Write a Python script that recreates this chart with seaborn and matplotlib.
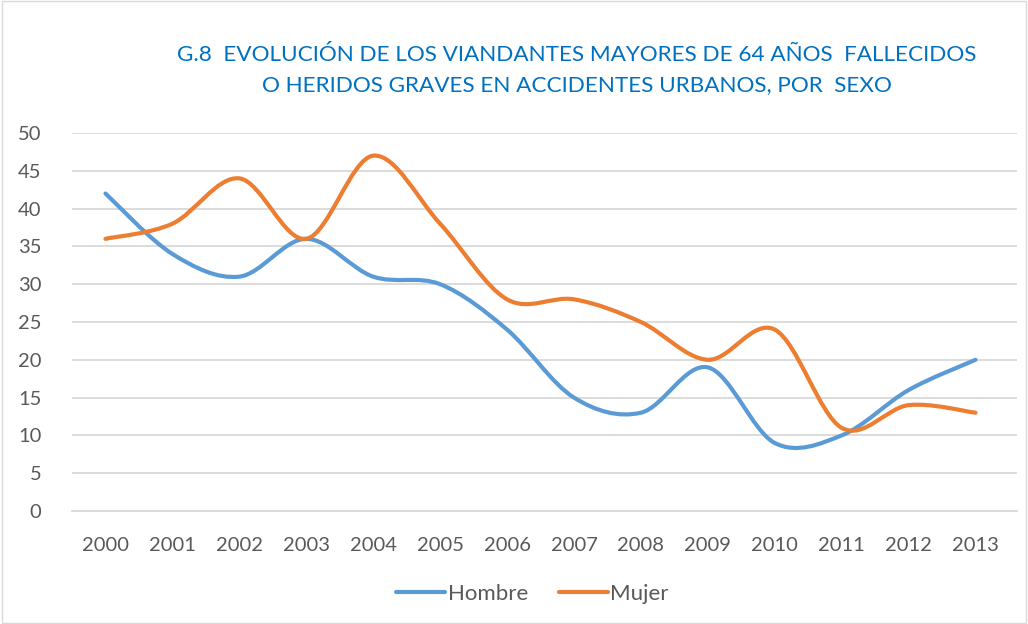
import numpy as np
import pandas as pd
import seaborn as sns
import matplotlib.pyplot as plt
from matplotlib.path import Path
from matplotlib.patches import PathPatch, Rectangle

# Datos
anios = [2000, 2001, 2002, 2003, 2004, 2005, 2006, 2007, 2008, 2009, 2010, 2011, 2012, 2013]
hombre = [42, 34, 31, 36, 31, 30, 24, 15, 13, 19, 9, 10, 16, 20]
mujer = [36, 38, 44, 36, 47, 38, 28, 28, 25, 20, 24, 11, 14, 13]
series = ["Hombre", "Mujer"]
colores = {"Hombre": "#5B9BD5", "Mujer": "#ED7D31"}

titulo = ("G.8  EVOLUCIÓN DE LOS VIANDANTES MAYORES DE 64 AÑOS  FALLECIDOS\n"
          "O HERIDOS GRAVES EN ACCIDENTES URBANOS, POR  SEXO")

df = pd.DataFrame({"pos": list(range(len(anios))) * 2,
                   "valor": hombre + mujer,
                   "Sexo": ["Hombre"] * len(anios) + ["Mujer"] * len(anios)})

sns.set_theme(style="white")
plt.rcParams["font.family"] = ["Lato", "DejaVu Sans"]


def curva_suave(x, y):
    # línea suavizada tipo Excel (Bezier de Catmull-Rom)
    p = np.column_stack([x, y]).astype(float)
    verts = [p[0]]
    codes = [Path.MOVETO]
    n = len(p)
    for i in range(n - 1):
        p0 = p[i - 1] if i > 0 else p[i]
        p3 = p[i + 2] if i + 2 < n else p[i + 1]
        c1 = p[i] + (p[i + 1] - p0) / 6
        c2 = p[i + 1] - (p3 - p[i]) / 6
        verts += [c1, c2, p[i + 1]]
        codes += [Path.CURVE4] * 3
    return Path(verts, codes)


fig = plt.figure(figsize=(10.28, 6.24), dpi=100)
ax = fig.add_axes([72 / 1028, 1 - 511 / 624, 945 / 1028, 378 / 624])

# seaborn fija escalas y leyenda; el trazo suavizado se añade encima
sns.lineplot(data=df, x="pos", y="valor", hue="Sexo", palette=colores,
             linewidth=0, ax=ax, legend=True)

for nombre, vals in zip(series, [hombre, mujer]):
    patch = PathPatch(curva_suave(range(len(anios)), vals), facecolor="none",
                      edgecolor=colores[nombre], linewidth=3.0,
                      capstyle="round", joinstyle="round", zorder=3)
    ax.add_patch(patch)

ax.set_xlim(-0.5, 13.62)
ax.set_ylim(0, 50)
ax.set_yticks(range(0, 51, 5))
ax.set_xticks(range(len(anios)))
ax.set_xticklabels([str(a) for a in anios])
ax.tick_params(axis="both", labelsize=14.5, colors="#595959", length=0)
ax.tick_params(axis="x", pad=19)
ax.tick_params(axis="y", pad=22)
ax.grid(axis="y", color="#D9D9D9", linewidth=1.3)
ax.set_axisbelow(True)
for s in ["top", "right", "left"]:
    ax.spines[s].set_visible(False)
ax.spines["bottom"].set_color("#D9D9D9")
ax.spines["bottom"].set_linewidth(1.3)
ax.set_xlabel("")
ax.set_ylabel("")

leg = ax.legend(loc="center", bbox_to_anchor=(0.518, 1 - 594 / 624), bbox_transform=fig.transFigure,
                ncol=2, frameon=False, fontsize=16, handlelength=2.2,
                handletextpad=0.1, columnspacing=1.4)
for h in leg.get_lines():
    h.set_linewidth(3.0)
    h.set_solid_capstyle("round")
for t in leg.get_texts():
    t.set_color("#595959")

fig.text(577 / 1028, 1 - 70 / 624, titulo, ha="center", va="center",
         fontsize=16.2, color="#0070C0", linespacing=1.6)

fig.patches.append(Rectangle((0.002, 0.002), 0.996, 0.996, transform=fig.transFigure,
                             fill=False, edgecolor="#D9D9D9", linewidth=1))

fig.savefig("out.png", dpi=100)
